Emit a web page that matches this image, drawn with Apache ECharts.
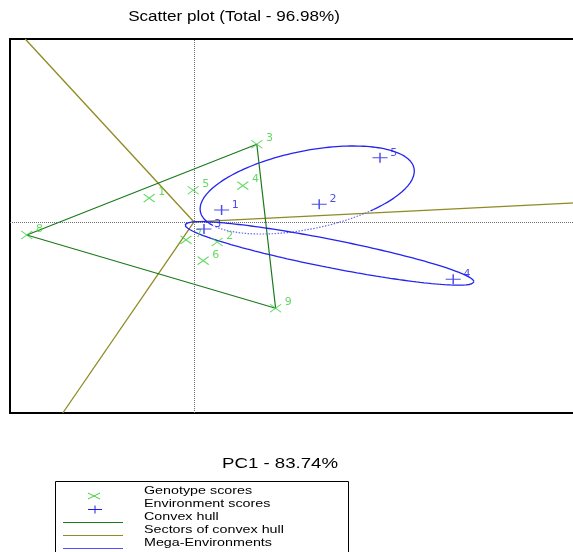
<!DOCTYPE html>
<html>
<head>
<meta charset="utf-8">
<script src="https://cdn.jsdelivr.net/npm/echarts@6/dist/echarts.min.js"></script>
<style>
  html, body { margin: 0; padding: 0; background: #fff; overflow: hidden; }
  #chart { width: 640px; height: 552px; }
</style>
</head>
<body>
<div id="chart"></div>
<script>
// Genotype scores (PC1, PC2)
const genotypeNames = ['1', '2', '3', '4', '5', '6', '7', '8', '9'];
const genotypePC1 = [-1.12, 0.58, 1.57, 1.22, -0.02, 0.23, -0.20, -4.18, 2.04];
const genotypePC2 = [0.92, -0.77, 2.99, 1.40, 1.22, -1.49, -0.69, -0.50, -3.32];

// Environment scores (PC1, PC2)
const environmentNames = ['1', '2', '3', '4', '5'];
const environmentPC1 = [0.69, 3.13, 0.25, 6.48, 4.65];
const environmentPC2 = [0.46, 0.68, -0.27, -2.20, 2.47];

// Vertex genotypes of the convex hull, in drawing order
const hullVertices = ['3', '9', '8'];

// End points of the sector rays drawn from the origin
const sectorEndPC1 = [-4.22, -3.28, 10.4];
const sectorEndPC2 = [7.04, -7.35, 0.80];

// Mega-environment ellipses: centre and two conjugate half-axes
const megaCentre = [[2.83, 1.23], [3.39, -1.21]];
const megaAxisU = [[2.67, 0.84], [3.61, -1.10]];
const megaAxisV = [[0.20, -1.47], [-0.07, -0.53]];
// Arc of each ellipse (parameter, degrees) drawn dotted
const megaDottedArc = [[59, 156], null];

// Axis ranges
const rangePC1 = [-4.6, 10.4];
const rangePC2 = [-7.35, 7.04];

const titleText = 'Scatter plot (Total - 96.98%)';
const xTitleText = 'PC1 - 83.74%';
const legendLabels = ['Genotype scores', 'Environment scores', 'Convex hull',
  'Sectors of convex hull', 'Mega-Environments'];

const C_GEN = '#3fcf3f';
const C_ENV = '#1f1fe6';
const C_HULL = '#1a7a1a';
const C_SECT = '#8f8a22';
const C_MEGA = '#2424f0';
const C_MEGA_DOT = '#6a6af2';

function ellipseArc(i, fromDeg, toDeg) {
  const c = megaCentre[i], u = megaAxisU[i], v = megaAxisV[i];
  const pts = [];
  for (let d = fromDeg; d <= toDeg + 1e-9; d += 2) {
    const t = d * Math.PI / 180;
    const cs = Math.cos(t), sn = Math.sin(t);
    pts.push([c[0] + u[0] * cs + v[0] * sn, c[1] + u[1] * cs + v[1] * sn]);
  }
  return pts;
}

const genotypeData = genotypeNames.map((n, i) => ({ name: n, value: [genotypePC1[i], genotypePC2[i]] }));
const environmentData = environmentNames.map((n, i) => ({ name: n, value: [environmentPC1[i], environmentPC2[i]] }));

const hullPoints = hullVertices.concat([hullVertices[0]]).map(n => {
  const i = genotypeNames.indexOf(n);
  return [genotypePC1[i], genotypePC2[i]];
});

const sectorData = sectorEndPC1.map((x, i) => ({ coords: [[0, 0], [x, sectorEndPC2[i]]] }));

const series = [];

// Dotted reference lines through the origin
series.push({
  type: 'lines', coordinateSystem: 'cartesian2d', silent: true, z: 1,
  lineStyle: { color: '#707070', width: 1, type: [1, 1], opacity: 1 },
  data: [
    { coords: [[0, rangePC2[0]], [0, rangePC2[1]]] },
    { coords: [[rangePC1[0], 0], [rangePC1[1], 0]] }
  ]
});

// Sectors of the convex hull
series.push({
  type: 'lines', coordinateSystem: 'cartesian2d', silent: true, z: 2,
  lineStyle: { color: C_SECT, width: 1.3, opacity: 1 },
  data: sectorData
});

// Convex hull
series.push({
  type: 'line', data: hullPoints, showSymbol: false, silent: true, z: 3,
  lineStyle: { color: C_HULL, width: 1.2 }
});

// Mega-environment ellipses
megaCentre.forEach((c, i) => {
  const dot = megaDottedArc[i];
  if (dot) {
    series.push({
      type: 'line', data: ellipseArc(i, dot[1], dot[0] + 360), showSymbol: false, silent: true, z: 4,
      lineStyle: { color: C_MEGA, width: 1.3 }
    });
    series.push({
      type: 'line', data: ellipseArc(i, dot[0], dot[1]), showSymbol: false, silent: true, z: 4,
      lineStyle: { color: C_MEGA_DOT, width: 1.2, type: [1.5, 1.5] }
    });
  } else {
    series.push({
      type: 'line', data: ellipseArc(i, 0, 360), showSymbol: false, silent: true, z: 4,
      lineStyle: { color: C_MEGA, width: 1.3 }
    });
  }
});

// Genotype scores
series.push({
  type: 'scatter', data: genotypeData, z: 5,
  symbol: 'path://M0,0L10,10M10,0L0,10', symbolSize: [11, 8],
  itemStyle: { color: C_GEN, borderColor: C_GEN, borderWidth: 1.1 },
  label: {
    show: true, formatter: '{b}', position: 'right', distance: 3, offset: [0, -6],
    color: C_GEN, fontSize: 11, fontFamily: 'DejaVu Sans'
  }
});

// Environment scores
series.push({
  type: 'scatter', data: environmentData, z: 6,
  symbol: 'path://M0,5L10,5M5,0L5,10', symbolSize: [15, 10],
  itemStyle: { color: C_ENV, borderColor: C_ENV, borderWidth: 1.2 },
  label: {
    show: true, formatter: '{b}', position: 'right', distance: 2, offset: [0, -5],
    color: C_ENV, fontSize: 11, fontFamily: 'DejaVu Sans'
  }
});

// Title, axis title and legend box
const FONT = 'Liberation Sans';
const graphic = [
  { type: 'text', x: 234, y: 17, scaleX: 1.22, silent: true,
    style: { text: titleText, fontSize: 14, fontFamily: FONT, fill: '#000', textAlign: 'center', textVerticalAlign: 'middle' } },
  { type: 'text', x: 280, y: 464, scaleX: 1.33, silent: true,
    style: { text: xTitleText, fontSize: 14, fontFamily: FONT, fill: '#000', textAlign: 'center', textVerticalAlign: 'middle' } },
  { type: 'rect', silent: true, shape: { x: 55.5, y: 481.5, width: 293, height: 90 },
    style: { fill: '#fff', stroke: '#000', lineWidth: 1 } },
  // genotype marker
  { type: 'line', silent: true, shape: { x1: 88, y1: 493, x2: 100, y2: 499 }, style: { stroke: C_GEN, lineWidth: 1 } },
  { type: 'line', silent: true, shape: { x1: 88, y1: 499, x2: 100, y2: 493 }, style: { stroke: C_GEN, lineWidth: 1 } },
  // environment marker
  { type: 'line', silent: true, shape: { x1: 88, y1: 509.5, x2: 102, y2: 509.5 }, style: { stroke: C_ENV, lineWidth: 1 } },
  { type: 'line', silent: true, shape: { x1: 95, y1: 505.5, x2: 95, y2: 513.5 }, style: { stroke: C_ENV, lineWidth: 1 } },
  // line keys
  { type: 'line', silent: true, shape: { x1: 63, y1: 522.5, x2: 123, y2: 522.5 }, style: { stroke: C_HULL, lineWidth: 1.2 } },
  { type: 'line', silent: true, shape: { x1: 63, y1: 535.5, x2: 123, y2: 535.5 }, style: { stroke: C_SECT, lineWidth: 1.2 } },
  { type: 'line', silent: true, shape: { x1: 63, y1: 548.5, x2: 123, y2: 548.5 }, style: { stroke: '#5050ff', lineWidth: 1.2 } }
];
legendLabels.forEach((t, i) => {
  graphic.push({
    type: 'text', x: 144, y: 491 + i * 13, scaleX: 1.3, silent: true,
    style: { text: t, fontSize: 11, fontFamily: FONT, fill: '#000', textAlign: 'left', textVerticalAlign: 'middle' }
  });
});

const chart = echarts.init(document.getElementById('chart'), null, { renderer: 'canvas' });
chart.setOption({
  animation: false,
  backgroundColor: '#fff',
  grid: {
    left: 10, top: 39, width: 600, height: 374, outerBoundsMode: 'none',
    show: true, borderColor: '#000', borderWidth: 2, backgroundColor: 'transparent'
  },
  xAxis: { type: 'value', min: rangePC1[0], max: rangePC1[1], show: false },
  yAxis: { type: 'value', min: rangePC2[0], max: rangePC2[1], show: false },
  series: series,
  graphic: graphic
});
</script>
</body>
</html>
